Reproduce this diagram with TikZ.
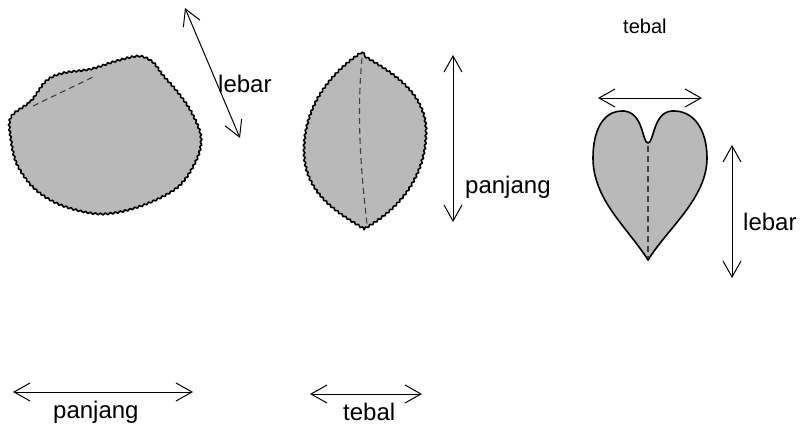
\documentclass[tikz,border=0pt]{standalone}
\usepackage{fontspec}
\setmainfont{Liberation Sans}
\usetikzlibrary{arrows.meta,decorations.pathmorphing}
\tikzset{>={Straight Barb[length=16pt,width=18pt,line width=1pt]}}
\tikzstyle{leaf}=[draw=black,fill=gray!55,line width=1.6pt,line join=round]
\tikzstyle{rough}=[decorate,decoration={snake,segment length=5pt,amplitude=0.9pt}]
\tikzstyle{midrib}=[draw=black!75,line width=1.1pt,dash pattern=on 6pt off 4pt]
\tikzstyle{dimline}=[<->,line width=1pt]
\tikzstyle{dimtext}=[inner sep=0pt,anchor=base west,font=\fontsize{24}{26}\selectfont]

\begin{document}
\begin{tikzpicture}[x=1pt,y=-1pt]
	\useasboundingbox (0,0) rectangle (800,432);

	% shell seen from the side
	\path[leaf,rough] plot[smooth cycle,tension=0.55] coordinates {
		(10,118) (30,102) (45,82) (62,74) (90,70) (115,62) (138,57) (152,63)
		(162,76) (176,92) (190,112) (200,137) (196,160) (177,188)
		(140,207) (100,215) (60,206) (33,189) (16,165) (10,140)};
	\draw[midrib] (33,106) -- (93,77);

	% second shell
	\path[leaf,rough] (362,52) .. controls (338,68) and (305,100) .. (305,150)
		.. controls (305,192) and (338,212) .. (365,228)
		.. controls (398,210) and (428,178) .. (428,130)
		.. controls (428,88) and (388,68) .. (362,52) -- cycle;
	\draw[midrib] (362,58) .. controls (356,120) and (362,180) .. (367,224);

	% heart shaped shell
	\path[leaf] (648,143) .. controls (642,143) and (644,113) .. (624,111)
		.. controls (602,110) and (593,132) .. (593,158)
		.. controls (593,200) and (628,228) .. (648,260)
		.. controls (668,228) and (707,198) .. (707,158)
		.. controls (707,130) and (694,110) .. (672,111)
		.. controls (653,112) and (654,143) .. (648,143) -- cycle;
	\draw[midrib] (648,146) -- (648,258);

	% arrow ends
	\coordinate (lw1) at (185,8);
	\coordinate (lw2) at (240,138);
	\coordinate (ml1) at (453,55);
	\coordinate (ml2) at (453,222);
	\coordinate (ht1) at (598,98);
	\coordinate (ht2) at (702,98);
	\coordinate (hw1) at (732,145);
	\coordinate (hw2) at (732,278);
	\coordinate (bl1) at (13,392);
	\coordinate (bl2) at (193,392);
	\coordinate (bt1) at (310,394);
	\coordinate (bt2) at (422,394);

	\draw[dimline] (lw1) -- (lw2);
	\draw[dimline] (ml1) -- (ml2);
	\draw[dimline] (ht1) -- (ht2);
	\draw[dimline] (hw1) -- (hw2);
	\draw[dimline] (bl1) -- (bl2);
	\draw[dimline] (bt1) -- (bt2);

	\node[dimtext] (lwtxt) at (218,92) {lebar};
	\node[dimtext] (mltxt) at (465,193) {panjang};
	\node[dimtext,font=\fontsize{20}{22}\selectfont] (httxt) at (623,33) {tebal};
	\node[dimtext] (hwtxt) at (743,230) {lebar};
	\node[dimtext] (bltxt) at (53,418) {panjang};
	\node[dimtext] (bttxt) at (343,420) {tebal};
\end{tikzpicture}
\end{document}
